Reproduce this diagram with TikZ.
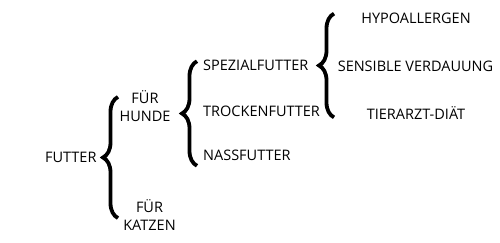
\documentclass[tikz,border=0pt]{standalone}
\usepackage{fontspec}
\setmainfont{Open Sans}
\usetikzlibrary{decorations.pathreplacing}

\begin{document}
\begin{tikzpicture}[
  x=1pt,
  y=-1pt,
  every node/.style={font=\fontsize{14.5}{18}\selectfont, inner sep=0pt,
                     align=center, black},
  item/.style={anchor=base west},
  bracket/.style={black, line width=3.8pt, decorate,
                  decoration={brace, amplitude=15pt}}
]
  \useasboundingbox (0,0) rectangle (500,243);

  % ---- first level ------------------------------------------------------
  \node[anchor=base] (futter) at (70.8,162.2) {FUTTER};

  \coordinate (futtertop) at (118,96.9);
  \coordinate (futterbot) at (118,218.1);
  \draw[bracket] (futterbot) -- (futtertop);

  % ---- dogs and cats (base is the lower line) ----------------------------
  \node[anchor=base] (hunde) at (145,121.2) {FÜR\\HUNDE};
  \node[anchor=base] (katzen) at (149.5,230.9) {FÜR\\KATZEN};

  \coordinate (hundetop) at (197,61.2);
  \coordinate (hundebot) at (197,165.8);
  \draw[bracket] (hundebot) -- (hundetop);

  % ---- kinds of dog food, left aligned -----------------------------------
  \node[item] (spezial) at (203,70.2) {SPEZIALFUTTER};
  \node[item] (trocken) at (203,116.9) {TROCKENFUTTER};
  \node[item] (nass) at (203,160.2) {NASSFUTTER};

  \coordinate (spezialtop) at (334,13.6);
  \coordinate (spezialbot) at (334,117.4);
  \draw[bracket] (spezialbot) -- (spezialtop);

  % ---- special food, centred on one column --------------------------------
  \node[anchor=base] (hypo) at (416,23.5) {HYPOALLERGEN};
  \node[anchor=base] (sensibel) at (415.5,71.2) {SENSIBLE VERDAUUNG};
  \node[anchor=base] (tierarzt) at (416,119.5) {TIERARZT-DIÄT};
\end{tikzpicture}
\end{document}
